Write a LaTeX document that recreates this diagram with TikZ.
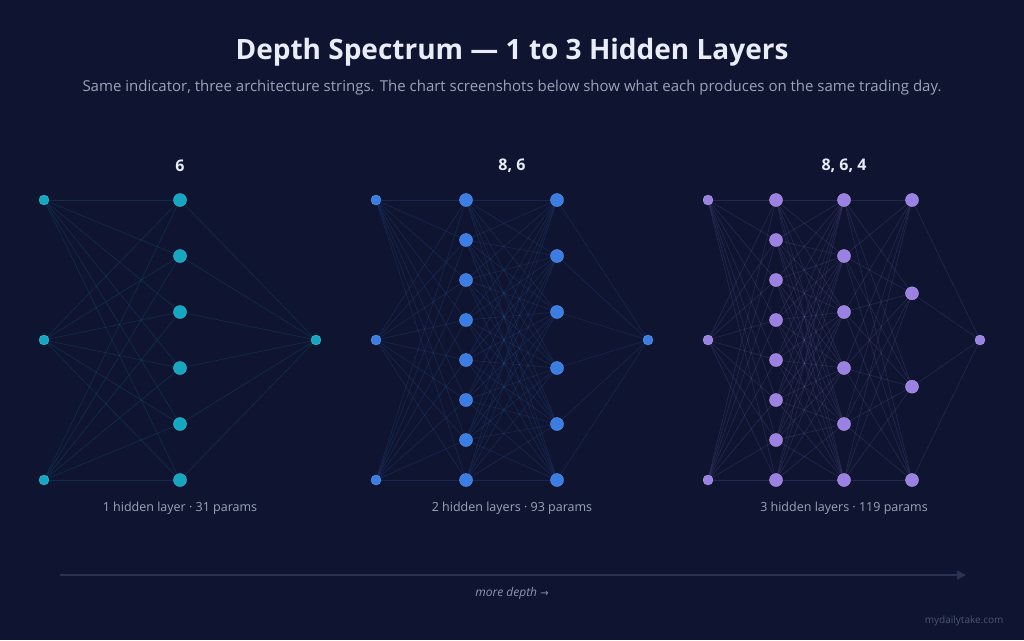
\documentclass[tikz,border=0pt]{standalone}
\usepackage{fontspec}
\setmainfont{Open Sans}
\newfontfamily\symfont{DejaVu Sans}
\usetikzlibrary{arrows.meta}
\definecolor{bgc}{HTML}{0F1531}
\definecolor{titlec}{HTML}{E8EDF7}
\definecolor{subc}{HTML}{9AA3B5}
\definecolor{capc}{HTML}{9AA4B6}
\definecolor{tealc}{HTML}{17A6C2}
\definecolor{bluec}{HTML}{3C7DE3}
\definecolor{purpc}{HTML}{9B82E2}
\definecolor{axisc}{HTML}{2A3352}
\definecolor{moredc}{HTML}{8C96AE}
\definecolor{wmc}{HTML}{4A5470}
\pgfdeclarelayer{back}
\pgfdeclarelayer{edges}
\pgfsetlayers{back,edges,main}
\newcommand\netlayer[5]{%
  \ifnum#4=1
    \node[#5] (#1-#2-1) at (#3,340) {};
  \else
    \foreach \k in {1,...,#4} {%
      \pgfmathsetmacro\yy{200+(\k-1)*280/(#4-1)}%
      \node[#5] (#1-#2-\k) at (#3,\yy) {};
    }%
  \fi}
\newcommand\netedges[6]{%
  \begin{pgfonlayer}{edges}
  \foreach \p in {1,...,#3} {\foreach \q in {1,...,#5} {%
    \draw[edge=#6] (#1-#2-\p.center) -- (#1-#4-\q.center);}}
  \end{pgfonlayer}}
\begin{document}
\begin{tikzpicture}[x=1pt,y=-1pt,
  io/.style={circle,inner sep=0pt,minimum size=10pt,fill=#1,draw=#1!80!white,line width=0.4pt},
  hid/.style={circle,inner sep=0pt,minimum size=13pt,fill=#1,draw=#1!80!white,line width=0.4pt},
  edge/.style={draw=#1,opacity=0.17,line width=0.6pt},
  archlabel/.style={font=\bfseries\fontsize{16}{19}\selectfont,text=titlec},
  caption/.style={font=\fontsize{12.5}{15}\selectfont,text=capc}]
\begin{pgfonlayer}{back}
\fill[bgc] (0,0) rectangle (1024,640);
\end{pgfonlayer}
\useasboundingbox (0,0) rectangle (1024,640);

\node[font=\bfseries\fontsize{28}{33}\selectfont,text=titlec] (title) at (512,52) {Depth Spectrum — 1 to 3 Hidden Layers};
\node[font=\fontsize{15}{18}\selectfont,text=subc] (sub) at (512,88) {Same indicator, three architecture strings. The chart screenshots below show what each produces on the same trading day.};

% Net 1
\netlayer{A}{0}{44}{3}{io=tealc}
\netlayer{A}{1}{180}{6}{hid=tealc}
\netlayer{A}{2}{316}{1}{io=tealc}
\netedges{A}{0}{3}{1}{6}{tealc}
\netedges{A}{1}{6}{2}{1}{tealc}
\node[archlabel] (la) at (180,166) {6};
\node[caption] (ca) at (180,508) {1 hidden layer · 31 params};

% Net 2
\netlayer{B}{0}{376}{3}{io=bluec}
\netlayer{B}{1}{466}{8}{hid=bluec}
\netlayer{B}{2}{557}{6}{hid=bluec}
\netlayer{B}{3}{648}{1}{io=bluec}
\netedges{B}{0}{3}{1}{8}{bluec}
\netedges{B}{1}{8}{2}{6}{bluec}
\netedges{B}{2}{6}{3}{1}{bluec}
\node[archlabel] (lb) at (512,166) {8, 6};
\node[caption] (cb) at (512,508) {2 hidden layers · 93 params};

% Net 3
\netlayer{C}{0}{708}{3}{io=purpc}
\netlayer{C}{1}{776}{8}{hid=purpc}
\netlayer{C}{2}{844}{6}{hid=purpc}
\netlayer{C}{3}{912}{4}{hid=purpc}
\netlayer{C}{4}{980}{1}{io=purpc}
\netedges{C}{0}{3}{1}{8}{purpc}
\netedges{C}{1}{8}{2}{6}{purpc}
\netedges{C}{2}{6}{3}{4}{purpc}
\netedges{C}{3}{4}{4}{1}{purpc}
\node[archlabel] (lc) at (844,166) {8, 6, 4};
\node[caption] (cc) at (844,508) {3 hidden layers · 119 params};

% depth axis
\coordinate (ax0) at (60,575);
\coordinate (ax1) at (966,575);
\draw[axisc,line width=1.6pt,-{Triangle[length=9pt,width=9pt]}] (ax0) -- (ax1);
\node[font=\itshape\fontsize{12}{14}\selectfont,text=moredc] (md) at (512,593) {more depth {\symfont\fontsize{10}{12}\selectfont →}};
\node[font=\fontsize{10}{12}\selectfont,text=wmc,anchor=east] (wm) at (1007,621) {mydailytake.com};
\end{tikzpicture}
\end{document}
